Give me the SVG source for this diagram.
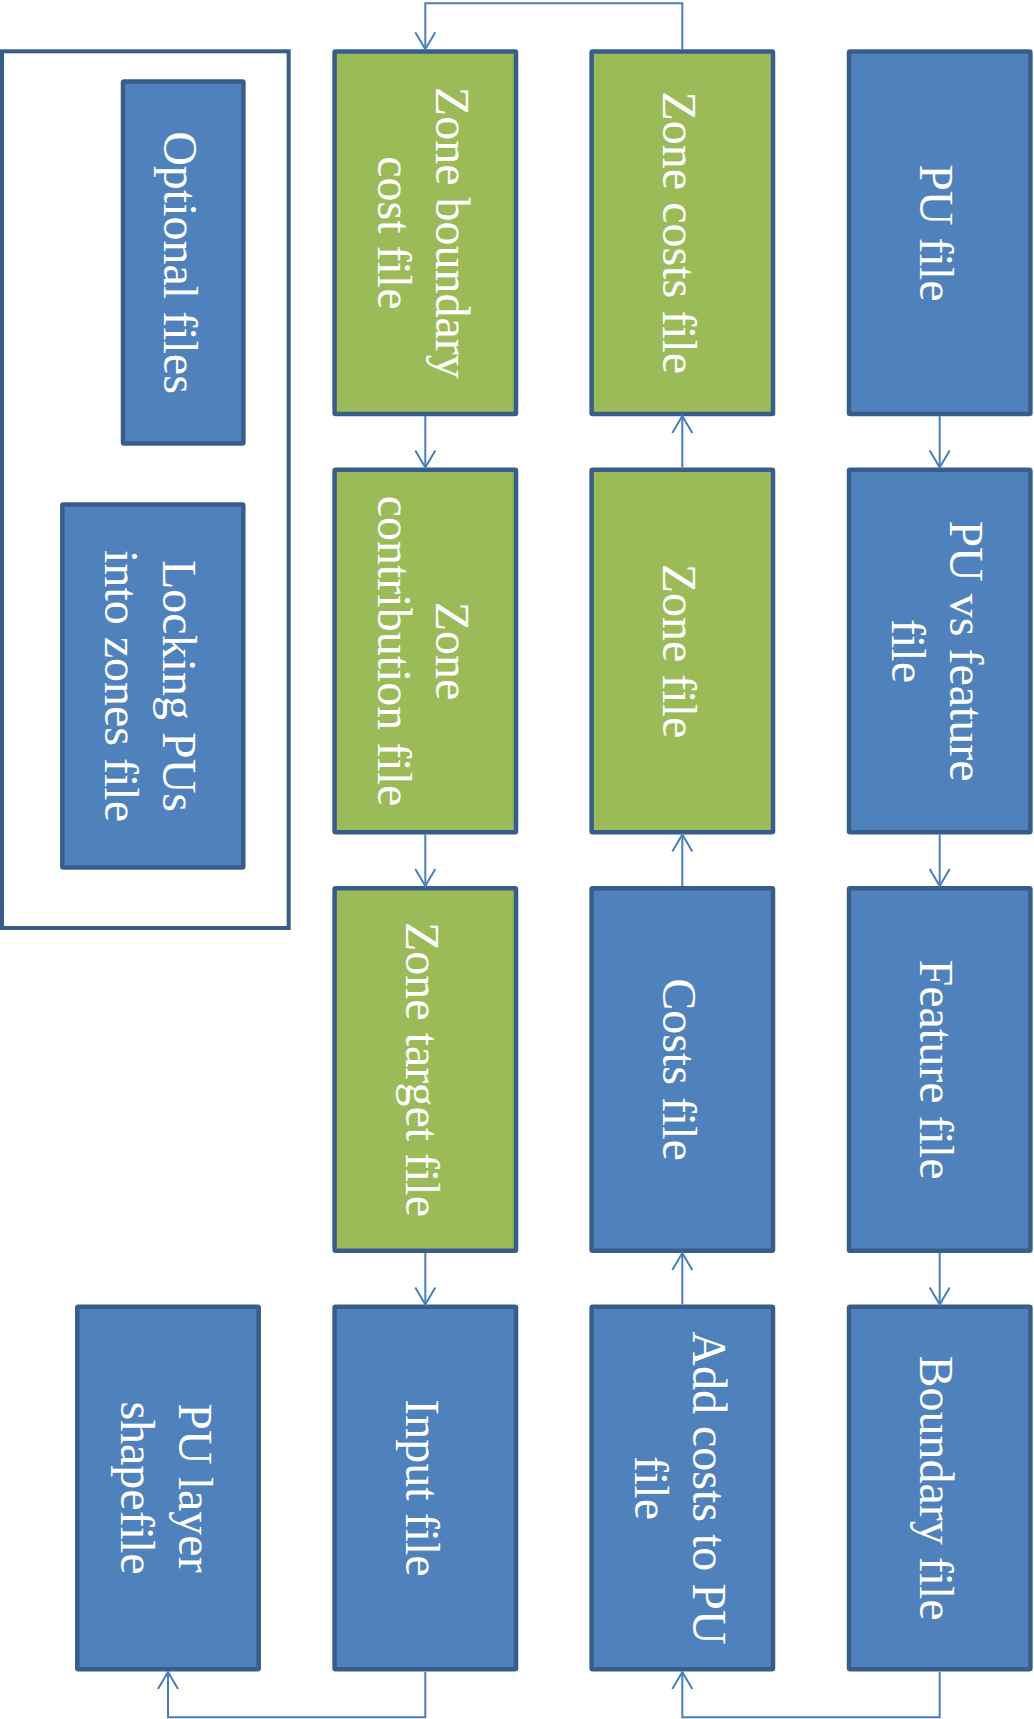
<svg xmlns="http://www.w3.org/2000/svg" width="1034" height="1719" viewBox="0 0 1034 1719">
  <style>
    .blue { fill: #4F81BD; stroke: #385D8A; stroke-width: 4.5; }
    .green { fill: #9BBB59; stroke: #385D8A; stroke-width: 4.5; }
    .frame { fill: #FFFFFF; stroke: #385D8A; stroke-width: 4; }
    .lbl { font-family: "Liberation Serif", "Times New Roman", serif; font-size: 48px; fill: #FFFFFF; text-anchor: middle; font-variant-ligatures: none; }
    .conn { fill: none; stroke: #4A7EBB; stroke-width: 2; }
  </style>
  <defs>
    <marker id="arr" viewBox="-20 -12 22 24" refX="0" refY="0" markerWidth="22" markerHeight="24" markerUnits="userSpaceOnUse" orient="auto">
      <path d="M-17,-10 L0,0 L-17,10" fill="none" stroke="#4A7EBB" stroke-width="2"/>
    </marker>
  </defs>
  <rect width="1034" height="1719" fill="#FFFFFF"/>

  <g id="optional-frame">
    <rect class="frame" x="2" y="51.3" width="286.7" height="876.7"/>
  </g>
  <g id="optional-files">
    <rect class="blue" x="123" y="81.6" width="120.4" height="361.8" rx="1"/>
    <text class="lbl" transform="translate(183.2,262.5) rotate(90)"><tspan x="0" y="19.5">Optional files</tspan></text>
  </g>
  <g id="locking-pus">
    <rect class="blue" x="62.3" y="504.6" width="181" height="363" rx="1"/>
    <text class="lbl" transform="translate(152.9,686) rotate(90)"><tspan x="0" y="-10.5">Locking PUs</tspan><tspan x="0" y="47.5">into zones file</tspan></text>
  </g>

  <g id="zone-boundary-cost">
    <rect class="green" x="334.6" y="51.6" width="181.4" height="362.4" rx="1"/>
    <text class="lbl" transform="translate(425.3,232.8) rotate(90)"><tspan x="0" y="-10.5">Zone boundary</tspan><tspan x="0" y="47.5">cost file</tspan></text>
  </g>
  <g id="zone-contribution">
    <rect class="green" x="334.6" y="469.8" width="181.4" height="362.4" rx="1"/>
    <text class="lbl" transform="translate(425.3,651) rotate(90)"><tspan x="0" y="-10.5">Zone</tspan><tspan x="0" y="47.5">contribution file</tspan></text>
  </g>
  <g id="zone-target">
    <rect class="green" x="334.6" y="888.3" width="181.4" height="362.4" rx="1"/>
    <text class="lbl" transform="translate(425.3,1069.5) rotate(90)"><tspan x="0" y="19.5">Zone target file</tspan></text>
  </g>
  <g id="input-file">
    <rect class="blue" x="334.6" y="1306.8" width="181.4" height="362.4" rx="1"/>
    <text class="lbl" transform="translate(425.3,1488) rotate(90)"><tspan x="0" y="19.5">Input file</tspan></text>
  </g>

  <g id="zone-costs">
    <rect class="green" x="591.6" y="51.6" width="181.4" height="362.4" rx="1"/>
    <text class="lbl" transform="translate(682.3,232.8) rotate(90)"><tspan x="0" y="19.5">Zone costs file</tspan></text>
  </g>
  <g id="zone-file">
    <rect class="green" x="591.6" y="469.8" width="181.4" height="362.4" rx="1"/>
    <text class="lbl" transform="translate(682.3,651) rotate(90)"><tspan x="0" y="19.5">Zone file</tspan></text>
  </g>
  <g id="costs-file">
    <rect class="blue" x="591.6" y="888.3" width="181.4" height="362.4" rx="1"/>
    <text class="lbl" transform="translate(682.3,1069.5) rotate(90)"><tspan x="0" y="19.5">Costs file</tspan></text>
  </g>
  <g id="add-costs">
    <rect class="blue" x="591.6" y="1306.8" width="181.4" height="362.4" rx="1"/>
    <text class="lbl" transform="translate(682.3,1488) rotate(90)"><tspan x="0" y="-10.5">Add costs to PU</tspan><tspan x="0" y="47.5">file</tspan></text>
  </g>

  <g id="pu-file">
    <rect class="blue" x="849" y="51.6" width="181.4" height="362.4" rx="1"/>
    <text class="lbl" transform="translate(939.7,232.8) rotate(90)"><tspan x="0" y="19.5">PU file</tspan></text>
  </g>
  <g id="pu-vs-feature">
    <rect class="blue" x="849" y="469.8" width="181.4" height="362.4" rx="1"/>
    <text class="lbl" transform="translate(939.7,651) rotate(90)"><tspan x="0" y="-10.5">PU vs feature</tspan><tspan x="0" y="47.5">file</tspan></text>
  </g>
  <g id="feature-file">
    <rect class="blue" x="849" y="888.3" width="181.4" height="362.4" rx="1"/>
    <text class="lbl" transform="translate(939.7,1069.5) rotate(90)"><tspan x="0" y="19.5">Feature file</tspan></text>
  </g>
  <g id="boundary-file">
    <rect class="blue" x="849" y="1306.8" width="181.4" height="362.4" rx="1"/>
    <text class="lbl" transform="translate(939.7,1488) rotate(90)"><tspan x="0" y="19.5">Boundary file</tspan></text>
  </g>

  <g id="pu-layer">
    <rect class="blue" x="77.3" y="1306.8" width="181.4" height="362.4" rx="1"/>
    <text class="lbl" transform="translate(168,1488) rotate(90)"><tspan x="0" y="-10.5">PU layer</tspan><tspan x="0" y="47.5">shapefile</tspan></text>
  </g>

  <g id="connectors">
    <path class="conn" marker-end="url(#arr)" d="M682.3,49.3 V3.3 H425.3 V49.3"/>
    <path class="conn" marker-end="url(#arr)" d="M425.3,416 V467.5"/>
    <path class="conn" marker-end="url(#arr)" d="M425.3,834.5 V886"/>
    <path class="conn" marker-end="url(#arr)" d="M425.3,1253 V1304.5"/>
    <path class="conn" marker-end="url(#arr)" d="M425.3,1672 V1717.3 H168 V1672"/>
    <path class="conn" marker-end="url(#arr)" d="M682.3,467.5 V416"/>
    <path class="conn" marker-end="url(#arr)" d="M682.3,886 V834.5"/>
    <path class="conn" marker-end="url(#arr)" d="M682.3,1304.5 V1253"/>
    <path class="conn" marker-end="url(#arr)" d="M939.7,1672 V1717.3 H682.3 V1672"/>
    <path class="conn" marker-end="url(#arr)" d="M939.7,416 V467.5"/>
    <path class="conn" marker-end="url(#arr)" d="M939.7,834.5 V886"/>
    <path class="conn" marker-end="url(#arr)" d="M939.7,1253 V1304.5"/>
  </g>
</svg>
